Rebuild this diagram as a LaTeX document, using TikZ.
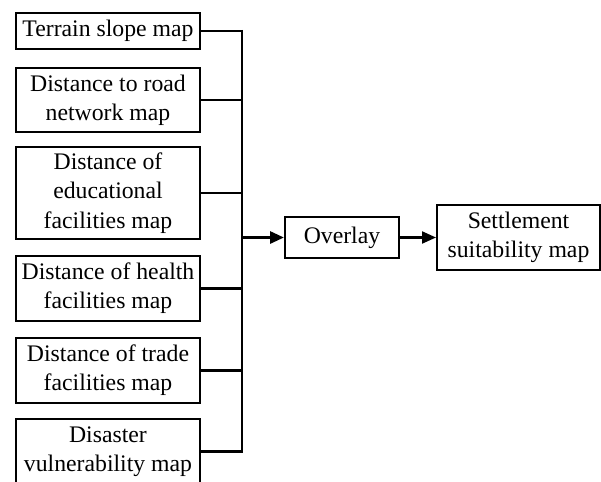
\documentclass[tikz,border=0pt]{standalone}
\usepackage{fontspec}
\setmainfont{Liberation Serif}
\usetikzlibrary{arrows.meta}
\begin{document}
\begin{tikzpicture}[x=0.75pt,y=-0.75pt,
  box/.style={draw,line width=1.5pt,inner sep=0pt,align=center,
    font=\fontsize{17.8pt}{22pt}\selectfont},
  src/.style={box,minimum width=138pt},
  conn/.style={line width=1.6pt},
  arr/.style={line width=2.2pt,-{Triangle[length=10.5pt,width=9pt]}}]
\clip (0,0) rectangle (601,482);
\useasboundingbox (0,0) rectangle (601,482);
\node[src,minimum height=27pt] (b1) at (108,31) {Terrain slope map};
\node[src,minimum height=48pt] (b2) at (108,100) {Distance to road\\network map};
\node[src,minimum height=69pt] (b3) at (108,193) {Distance of\\educational\\facilities map};
\node[src,minimum height=48.75pt] (b4) at (108,288.5) {Distance of health\\facilities map};
\node[src,minimum height=48.75pt] (b5) at (108,370.5) {Distance of trade\\facilities map};
\node[src,minimum height=48.75pt] (b6) at (108,451.5) {Disaster\\vulnerability map};
\node[box,minimum width=85.5pt,minimum height=30.75pt] (ov) at (342,237.5) {Overlay};
\node[box,minimum width=122.25pt,minimum height=48.75pt] (st) at (518.5,237.5) {Settlement\\suitability map};
\coordinate (busx) at (242,0);
\coordinate (bt) at (b1.east -| busx);
\coordinate (bb) at (b6.east -| busx);
\draw[line width=2.2pt] ([yshift=0.8pt]bt) -- ([yshift=-0.8pt]bb);
\foreach \n in {b1,b2,b3,b4,b5,b6}{
  \draw[conn] (\n.east) -- (\n.east -| busx);
}
\draw[arr] (ov.west -| busx) -- (ov.west);
\draw[arr,line width=1.6pt] (ov.east) -- (st.west);
\end{tikzpicture}
\end{document}
